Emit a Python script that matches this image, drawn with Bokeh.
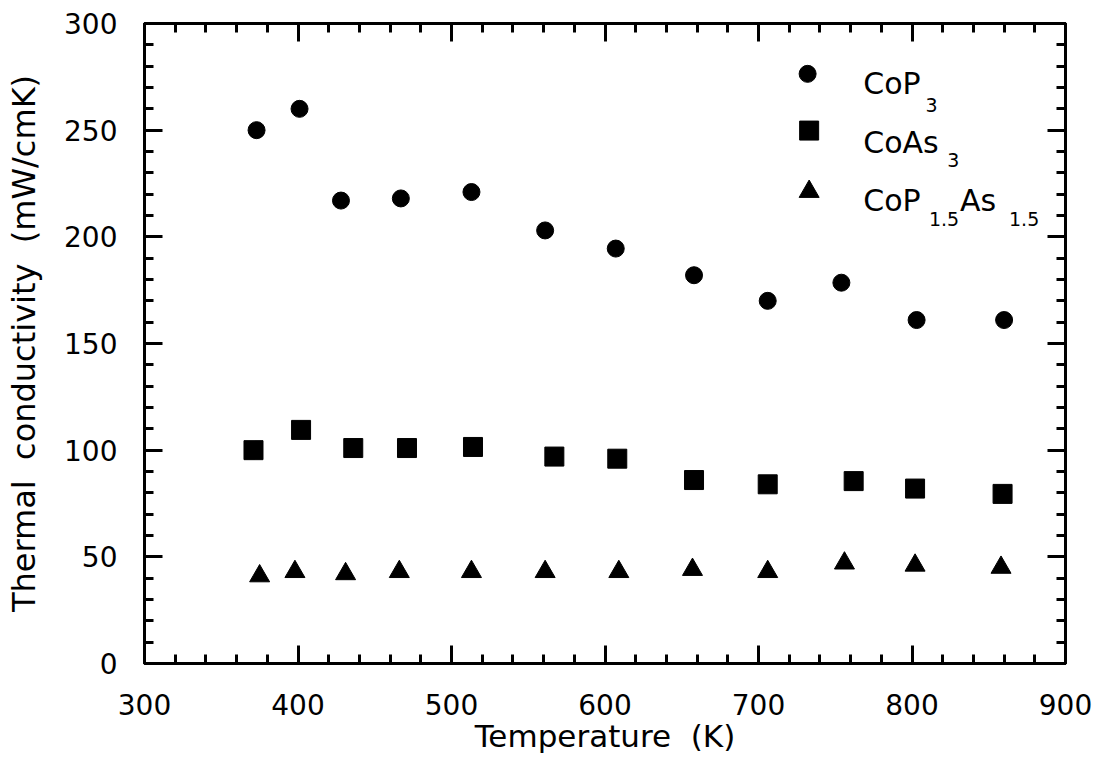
from bokeh.plotting import figure
from bokeh.models import LinearAxis, SingleIntervalTicker, Range1d, CustomJSTickFormatter, ColumnDataSource
from bokeh.core.properties import value
from bokeh.embed import file_html
from bokeh.resources import INLINE

# ---- data ----
temp_cop3 = [373, 401, 428, 467, 513, 561, 607, 658, 706, 754, 803, 860]
kappa_cop3 = [250, 260, 217, 218, 221, 203, 194.5, 182, 170, 178.5, 161, 161]

temp_coas3 = [371, 402, 436, 471, 514, 567, 608, 658, 706, 762, 802, 859]
kappa_coas3 = [100, 109.5, 101, 101, 101.5, 97, 96, 86, 84, 85.5, 82, 79.5]

temp_mixed = [375, 398, 431, 466, 513, 561, 609, 657, 706, 756, 802, 858]
kappa_mixed = [41, 43, 42, 43, 43, 43, 43, 44, 43, 47, 46, 45]

x_label = "Temperature\u00a0\u00a0(K)"
y_label = "Thermal\u00a0\u00a0conductivity\u00a0\u00a0(mW/cmK)"

FONT = "DejaVu Sans"

p = figure(width=1100, height=760, x_range=Range1d(300, 900), y_range=Range1d(0, 300),
           output_backend="svg", toolbar_location=None,
           min_border_left=144, min_border_right=35, min_border_top=23, min_border_bottom=97)
p.background_fill_color = "white"
p.border_fill_color = "white"
p.outline_line_color = "black"
p.outline_line_width = 3
p.xgrid.grid_line_color = None
p.ygrid.grid_line_color = None

bottom_axis = p.below[0]
left_axis = p.left[0]
bottom_axis.axis_label = x_label
left_axis.axis_label = y_label
bottom_axis.ticker = SingleIntervalTicker(interval=100, num_minor_ticks=5)
left_axis.ticker = SingleIntervalTicker(interval=50, num_minor_ticks=5)

blank = CustomJSTickFormatter(code="return ''")
top_axis = LinearAxis(ticker=SingleIntervalTicker(interval=100, num_minor_ticks=5), formatter=blank)
right_axis = LinearAxis(ticker=SingleIntervalTicker(interval=50, num_minor_ticks=5), formatter=blank)
p.add_layout(top_axis, "above")
p.add_layout(right_axis, "right")
for ax in (top_axis, right_axis):
    ax.major_label_text_font_size = "1px"
    ax.major_label_standoff = 0

for ax in (bottom_axis, left_axis, top_axis, right_axis):
    ax.axis_line_width = 3
    ax.axis_line_color = "black"
    ax.major_tick_in = 18
    ax.major_tick_out = 0
    ax.minor_tick_in = 9
    ax.minor_tick_out = 0
    ax.major_tick_line_width = 3
    ax.minor_tick_line_width = 3
    ax.major_tick_line_color = "black"
    ax.minor_tick_line_color = "black"

for ax in (bottom_axis, left_axis):
    ax.major_label_text_font = FONT
    ax.major_label_text_font_size = "28px"
    ax.major_label_text_color = "black"
    ax.axis_label_text_font = FONT
    ax.axis_label_text_font_style = "normal"
    ax.axis_label_text_color = "black"

bottom_axis.axis_label_text_font_size = "31px"
left_axis.axis_label_text_font_size = "32px"
bottom_axis.major_label_standoff = 30
bottom_axis.axis_label_standoff = 0
left_axis.major_label_standoff = 27
left_axis.axis_label_standoff = 18

# ---- data marks ----
p.scatter(temp_cop3, kappa_cop3, marker="circle", size=17, color="black")
p.scatter(temp_coas3, kappa_coas3, marker="square", size=19, color="black")
p.scatter(temp_mixed, kappa_mixed, marker="triangle", size=20, color="black")

# ---- legend (drawn by hand for subscripts) ----
p.scatter([732], [276.4], marker="circle", size=17, color="black")
p.scatter([733], [249.8], marker="square", size=19, color="black")
p.scatter([733], [221.2], marker="triangle", size=20, color="black")

main_src = ColumnDataSource(dict(x=[768.2, 768.2, 768.2, 831.2],
                                 y=[271.7, 244.4, 217.0, 217.0],
                                 t=["CoP", "CoAs", "CoP", "As"]))
sub_src = ColumnDataSource(dict(x=[808.8, 822.9, 811.0, 863.2],
                                y=[261.6, 235.8, 208.4, 208.4],
                                t=["3", "3", "1.5", "1.5"]))
p.text(x="x", y="y", text="t", source=main_src, text_font=value(FONT),
       text_font_size="30px", text_baseline="alphabetic", text_align="left", text_color="black")
p.text(x="x", y="y", text="t", source=sub_src, text_font=value(FONT),
       text_font_size="19px", text_baseline="alphabetic", text_align="left", text_color="black")

open("out.html", "w").write(file_html(p, INLINE))
